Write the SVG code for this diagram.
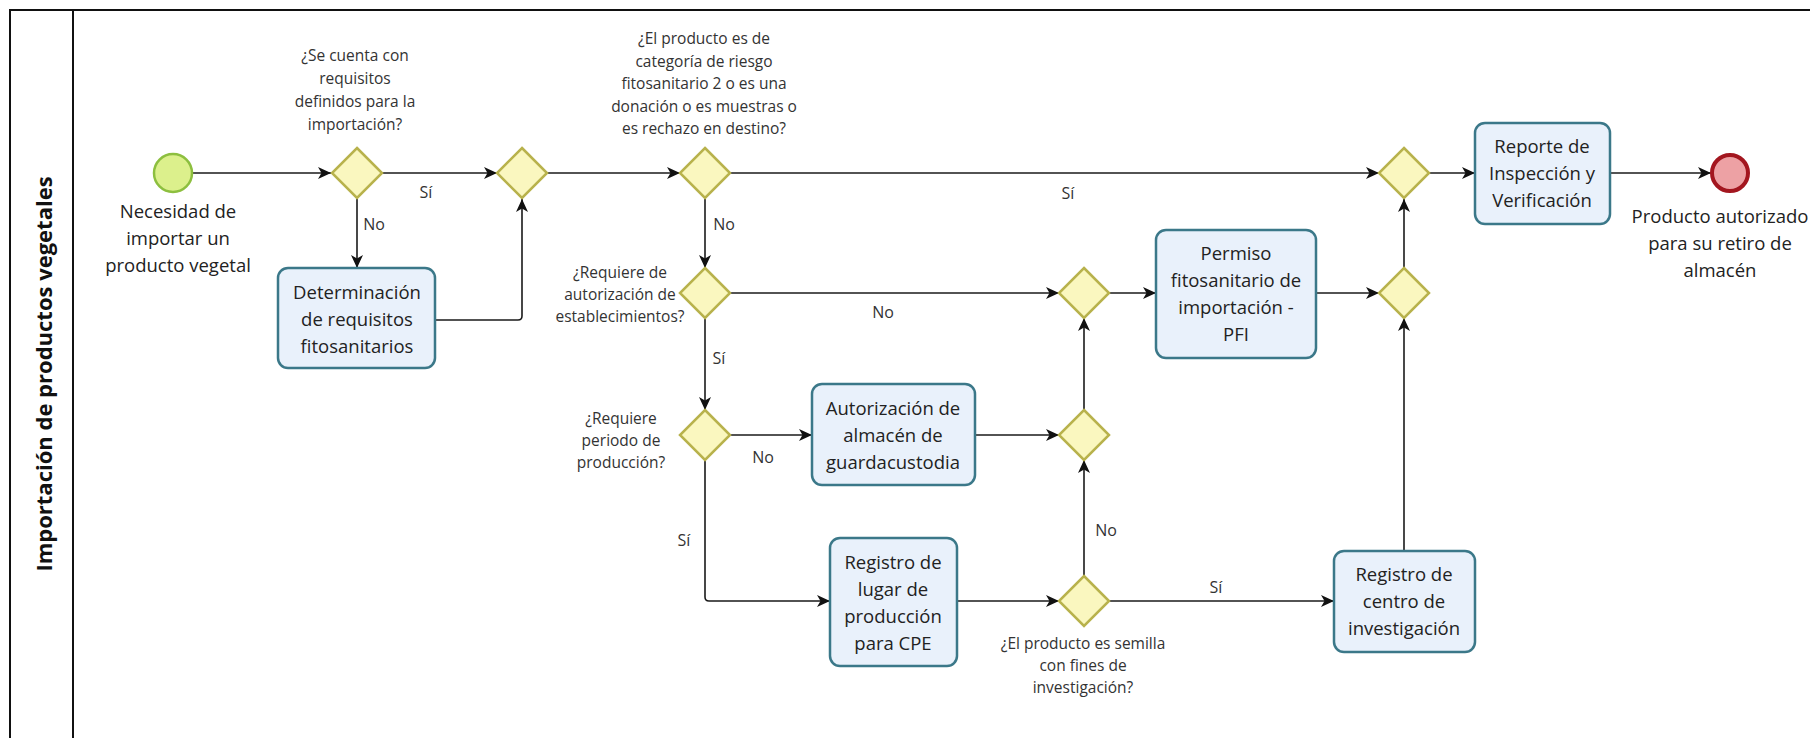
<svg xmlns="http://www.w3.org/2000/svg" width="1810" height="738" viewBox="0 0 1810 738">
<style>
.frame{fill:none;stroke:#111;stroke-width:2}
.gw{fill:#faf7bf;stroke:#b8b24c;stroke-width:2.5}
.task{fill:#e9f1fb;stroke:#3b7889;stroke-width:2.5}
.start{fill:#dcf08c;stroke:#8dbf3f;stroke-width:2.5}
.end{fill:#eda1a4;stroke:#a3161f;stroke-width:4}
.c{fill:none;stroke:#1a1a1a;stroke-width:1.6}
.t{font-family:"Open Sans","Noto Sans","Liberation Sans",sans-serif;fill:#222;text-anchor:middle}
.big{font-size:18.5px}
.q{font-size:15.5px;fill:#333}
.lbl{font-size:16px;fill:#333}
.title{font-family:"Open Sans","Noto Sans","Liberation Sans",sans-serif;font-weight:bold;font-size:22px;fill:#111;text-anchor:middle}
</style>
<defs>
<marker id="arr" markerWidth="14" markerHeight="12" refX="13" refY="6" orient="auto" markerUnits="userSpaceOnUse">
<path d="M0,0 L13,6 L0,12 L3.5,6 z" fill="#111"/>
</marker>
</defs>
<rect width="1810" height="738" fill="#fff"/>
<g id="lane">
<path class="frame" d="M10,740 L10,10 L1812,10"/>
<path class="frame" d="M73,10 L73,740"/>
<text class="title" transform="translate(52,374) rotate(-90)">Importación de productos vegetales</text>
</g>
<g id="connectors">
<path class="c" d="M192,173 L331,173" marker-end="url(#arr)"/>
<path class="c" d="M382,173 L497,173" marker-end="url(#arr)"/>
<path class="c" d="M357,199 L357,268" marker-end="url(#arr)"/>
<path class="c" d="M435,320 L518,320 Q522,320 522,316 L522,199" marker-end="url(#arr)"/>
<path class="c" d="M547,173 L680,173" marker-end="url(#arr)"/>
<path class="c" d="M730,173 L1379,173" marker-end="url(#arr)"/>
<path class="c" d="M705,199 L705,268" marker-end="url(#arr)"/>
<path class="c" d="M730,293 L1059,293" marker-end="url(#arr)"/>
<path class="c" d="M705,318 L705,410" marker-end="url(#arr)"/>
<path class="c" d="M730,435 L812,435" marker-end="url(#arr)"/>
<path class="c" d="M975,435 L1059,435" marker-end="url(#arr)"/>
<path class="c" d="M1084,410 L1084,318" marker-end="url(#arr)"/>
<path class="c" d="M705,460 L705,597 Q705,601 709,601 L830,601" marker-end="url(#arr)"/>
<path class="c" d="M957,601 L1059,601" marker-end="url(#arr)"/>
<path class="c" d="M1084,576 L1084,460" marker-end="url(#arr)"/>
<path class="c" d="M1109,601 L1334,601" marker-end="url(#arr)"/>
<path class="c" d="M1404,551 L1404,318" marker-end="url(#arr)"/>
<path class="c" d="M1109,293 L1156,293" marker-end="url(#arr)"/>
<path class="c" d="M1316,293 L1379,293" marker-end="url(#arr)"/>
<path class="c" d="M1404,268 L1404,199" marker-end="url(#arr)"/>
<path class="c" d="M1429,173 L1475,173" marker-end="url(#arr)"/>
<path class="c" d="M1610,173 L1711,173" marker-end="url(#arr)"/>
<g class="t lbl">
<text x="426" y="198">Sí</text>
<text x="374" y="230">No</text>
<text x="1068" y="199">Sí</text>
<text x="724" y="230">No</text>
<text x="883" y="318">No</text>
<text x="719" y="364">Sí</text>
<text x="763" y="463">No</text>
<text x="684" y="546">Sí</text>
<text x="1106" y="536">No</text>
<text x="1216" y="593">Sí</text>
</g>
</g>
<g id="start">
<circle class="start" cx="173" cy="173" r="19"/>
<text class="t big"><tspan x="178" y="218">Necesidad de</tspan><tspan x="178" y="245">importar un</tspan><tspan x="178" y="272">producto vegetal</tspan></text>
</g>
<g id="g1">
<path class="gw" d="M357,148 L382,173 L357,198 L332,173 z"/>
<text class="t q"><tspan x="355" y="61">¿Se cuenta con</tspan><tspan x="355" y="84">requisitos</tspan><tspan x="355" y="107">definidos para la</tspan><tspan x="355" y="130">importación?</tspan></text>
</g>
<g id="task-determinacion">
<rect class="task" x="278" y="268" width="157" height="100" rx="10"/>
<text class="t big"><tspan x="357" y="299">Determinación</tspan><tspan x="357" y="326">de requisitos</tspan><tspan x="357" y="353">fitosanitarios</tspan></text>
</g>
<g id="g2">
<path class="gw" d="M522,148 L547,173 L522,198 L497,173 z"/>
</g>
<g id="g3">
<path class="gw" d="M705,148 L730,173 L705,198 L680,173 z"/>
<text class="t q"><tspan x="704" y="44">¿El producto es de</tspan><tspan x="704" y="67">categoría de riesgo</tspan><tspan x="704" y="89">fitosanitario 2 o es una</tspan><tspan x="704" y="112">donación o es muestras o</tspan><tspan x="704" y="134">es rechazo en destino?</tspan></text>
</g>
<g id="g4">
<path class="gw" d="M705,268 L730,293 L705,318 L680,293 z"/>
<text class="t q"><tspan x="620" y="278">¿Requiere de</tspan><tspan x="620" y="300">autorización de</tspan><tspan x="620" y="322">establecimientos?</tspan></text>
</g>
<g id="g5">
<path class="gw" d="M1084,268 L1109,293 L1084,318 L1059,293 z"/>
</g>
<g id="g7">
<path class="gw" d="M705,410 L730,435 L705,460 L680,435 z"/>
<text class="t q"><tspan x="621" y="424">¿Requiere</tspan><tspan x="621" y="446">periodo de</tspan><tspan x="621" y="468">producción?</tspan></text>
</g>
<g id="task-autorizacion">
<rect class="task" x="812" y="384" width="163" height="101" rx="10"/>
<text class="t big"><tspan x="893" y="415">Autorización de</tspan><tspan x="893" y="442">almacén de</tspan><tspan x="893" y="469">guardacustodia</tspan></text>
</g>
<g id="g8">
<path class="gw" d="M1084,410 L1109,435 L1084,460 L1059,435 z"/>
</g>
<g id="task-registro-lugar">
<rect class="task" x="830" y="538" width="127" height="128" rx="10"/>
<text class="t big"><tspan x="893" y="569">Registro de</tspan><tspan x="893" y="596">lugar de</tspan><tspan x="893" y="623">producción</tspan><tspan x="893" y="650">para CPE</tspan></text>
</g>
<g id="g9">
<path class="gw" d="M1084,576 L1109,601 L1084,626 L1059,601 z"/>
<text class="t q"><tspan x="1083" y="649">¿El producto es semilla</tspan><tspan x="1083" y="671">con fines de</tspan><tspan x="1083" y="693">investigación?</tspan></text>
</g>
<g id="task-registro-centro">
<rect class="task" x="1334" y="551" width="141" height="101" rx="10"/>
<text class="t big"><tspan x="1404" y="581">Registro de</tspan><tspan x="1404" y="608">centro de</tspan><tspan x="1404" y="635">investigación</tspan></text>
</g>
<g id="task-pfi">
<rect class="task" x="1156" y="230" width="160" height="128" rx="10"/>
<text class="t big"><tspan x="1236" y="260">Permiso</tspan><tspan x="1236" y="287">fitosanitario de</tspan><tspan x="1236" y="314">importación -</tspan><tspan x="1236" y="341">PFI</tspan></text>
</g>
<g id="g10">
<path class="gw" d="M1404,268 L1429,293 L1404,318 L1379,293 z"/>
</g>
<g id="g6">
<path class="gw" d="M1404,148 L1429,173 L1404,198 L1379,173 z"/>
</g>
<g id="task-reporte">
<rect class="task" x="1475" y="123" width="135" height="101" rx="10"/>
<text class="t big"><tspan x="1542" y="153">Reporte de</tspan><tspan x="1542" y="180">Inspección y</tspan><tspan x="1542" y="207">Verificación</tspan></text>
</g>
<g id="end">
<circle class="end" cx="1730" cy="173" r="18"/>
<text class="t big"><tspan x="1720" y="223">Producto autorizado</tspan><tspan x="1720" y="250">para su retiro de</tspan><tspan x="1720" y="277">almacén</tspan></text>
</g>
</svg>
